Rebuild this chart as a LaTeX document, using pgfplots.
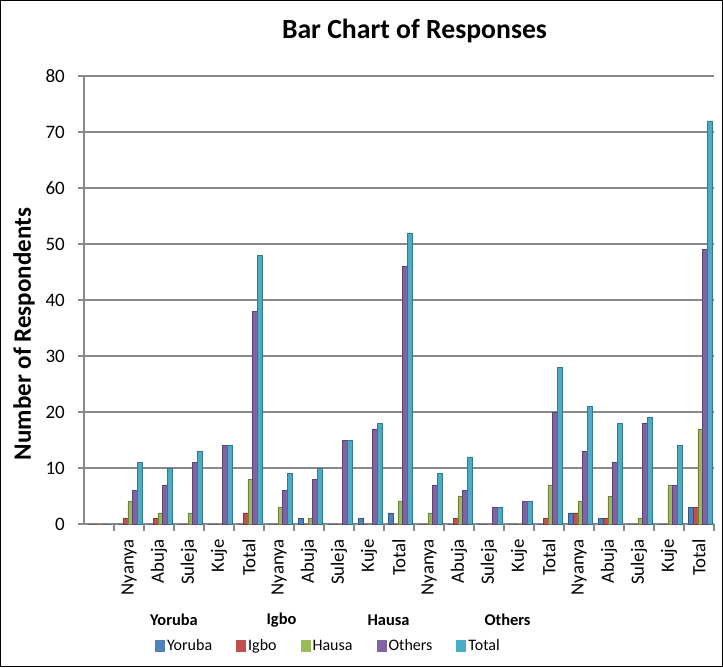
\documentclass[border=0pt]{standalone}
\usepackage{fontspec}
\setmainfont{Carlito}
\usepackage{pgfplots}
\pgfplotsset{compat=1.18}
\usepackage{pgfplotstable}
\definecolor{cYor}{HTML}{4F81BD}
\definecolor{cIgb}{HTML}{C0504D}
\definecolor{cHau}{HTML}{9BBB59}
\definecolor{cOth}{HTML}{8064A2}
\definecolor{cTot}{HTML}{4BACC6}
\definecolor{gridc}{HTML}{898989}
\pgfplotstableread{
x yor igb hau oth tot
0.5 0 0 0 0 0
1.5 0 1 4 6 11
2.5 0 1 2 7 10
3.5 0 0 2 11 13
4.5 0 0 0 14 14
5.5 0 2 8 38 48
6.5 0 0 3 6 9
7.5 1 0 1 8 10
8.5 0 0 0 15 15
9.5 1 0 0 17 18
10.5 2 0 4 46 52
11.5 0 0 2 7 9
12.5 0 1 5 6 12
13.5 0 0 0 3 3
14.5 0 0 0 4 4
15.5 0 1 7 20 28
16.5 2 2 4 13 21
17.5 1 1 5 11 18
18.5 0 0 1 18 19
19.5 0 0 7 7 14
20.5 3 3 17 49 72
}\data
\begin{document}
\begin{tikzpicture}[x=1pt,y=1pt]
\useasboundingbox (0,0) rectangle (723,667);
\draw[black, line width=0.8pt] (0.5,0.5) rectangle (722.5,666.5);
\begin{axis}[
  at={(84pt,143pt)}, anchor=south west,
  width=630pt, height=448pt, scale only axis,
  xmin=0, xmax=21, ymin=0, ymax=80,
  axis lines*=left,
  axis line style={draw=gridc, line width=1.3pt},
  ytick={0,10,...,80},
  ymajorgrids, grid style={draw=gridc, line width=1.3pt},
  tick align=outside,
  major tick length=6pt, minor tick length=7pt,
  tick style={draw=gridc, line width=1.2pt},
  xtick={0.5,1.5,...,20.5},
  major x tick style={draw=none},
  minor xtick={1,2,...,21},
  xticklabels={,Nyanya,Abuja,Suleja,Kuje,Total,Nyanya,Abuja,Suleja,Kuje,Total,Nyanya,Abuja,Suleja,Kuje,Total,Nyanya,Abuja,Suleja,Kuje,Total},
  xticklabel style={rotate=90, anchor=east, font=\fontsize{18.8}{19}\selectfont, inner sep=0pt, xshift=-9pt},
  yticklabel style={font=\fontsize{19}{19}\selectfont, inner sep=0pt, xshift=-13pt},
  /pgf/number format/assume math mode=true,
  ybar=0pt, bar width=0.16,
  legend columns=5,
  legend style={at={(0.388,-0.272)}, anchor=center, draw=none, fill=none,
    font=\fontsize{16}{16}\selectfont,
    /tikz/every even column/.append style={column sep=22pt},
    /tikz/every odd column/.append style={column sep=0pt}},
  legend image code/.code={\fill[#1, draw=none] (0pt,-6pt) rectangle (10pt,6pt);},
  clip=false,
]
\addplot[fill=cYor, draw=cYor!70!black, line width=0.4pt, bar shift=-0.28] table[x=x,y=yor] {\data};
\addplot[fill=cIgb, draw=cIgb!70!black, line width=0.4pt, bar shift=-0.12] table[x=x,y=igb] {\data};
\addplot[fill=cHau, draw=cHau!70!black, line width=0.4pt, bar shift=0.04] table[x=x,y=hau] {\data};
\addplot[fill=cOth, draw=cOth!70!black, line width=0.4pt, bar shift=0.20] table[x=x,y=oth] {\data};
\addplot[fill=cTot, draw=cTot!70!black, line width=0.4pt, bar shift=0.36] table[x=x,y=tot] {\data};
\legend{Yoruba,Igbo,Hausa,Others,Total}
\end{axis}
\node[font=\fontsize{27.7}{28}\selectfont\bfseries] at (414.5,636) {Bar Chart of Responses};
\node[font=\fontsize{25}{25}\selectfont\bfseries, rotate=90] at (24,333) {Number of Respondents};
\node[font=\fontsize{16.4}{17}\selectfont\bfseries] at (174,47) {Yoruba};
\node[font=\fontsize{16.4}{17}\selectfont\bfseries] at (281.5,47) {Igbo};
\node[font=\fontsize{16.4}{17}\selectfont\bfseries] at (388.5,47) {Hausa};
\node[font=\fontsize{16.4}{17}\selectfont\bfseries] at (507.5,47) {Others};
\end{tikzpicture}
\end{document}
